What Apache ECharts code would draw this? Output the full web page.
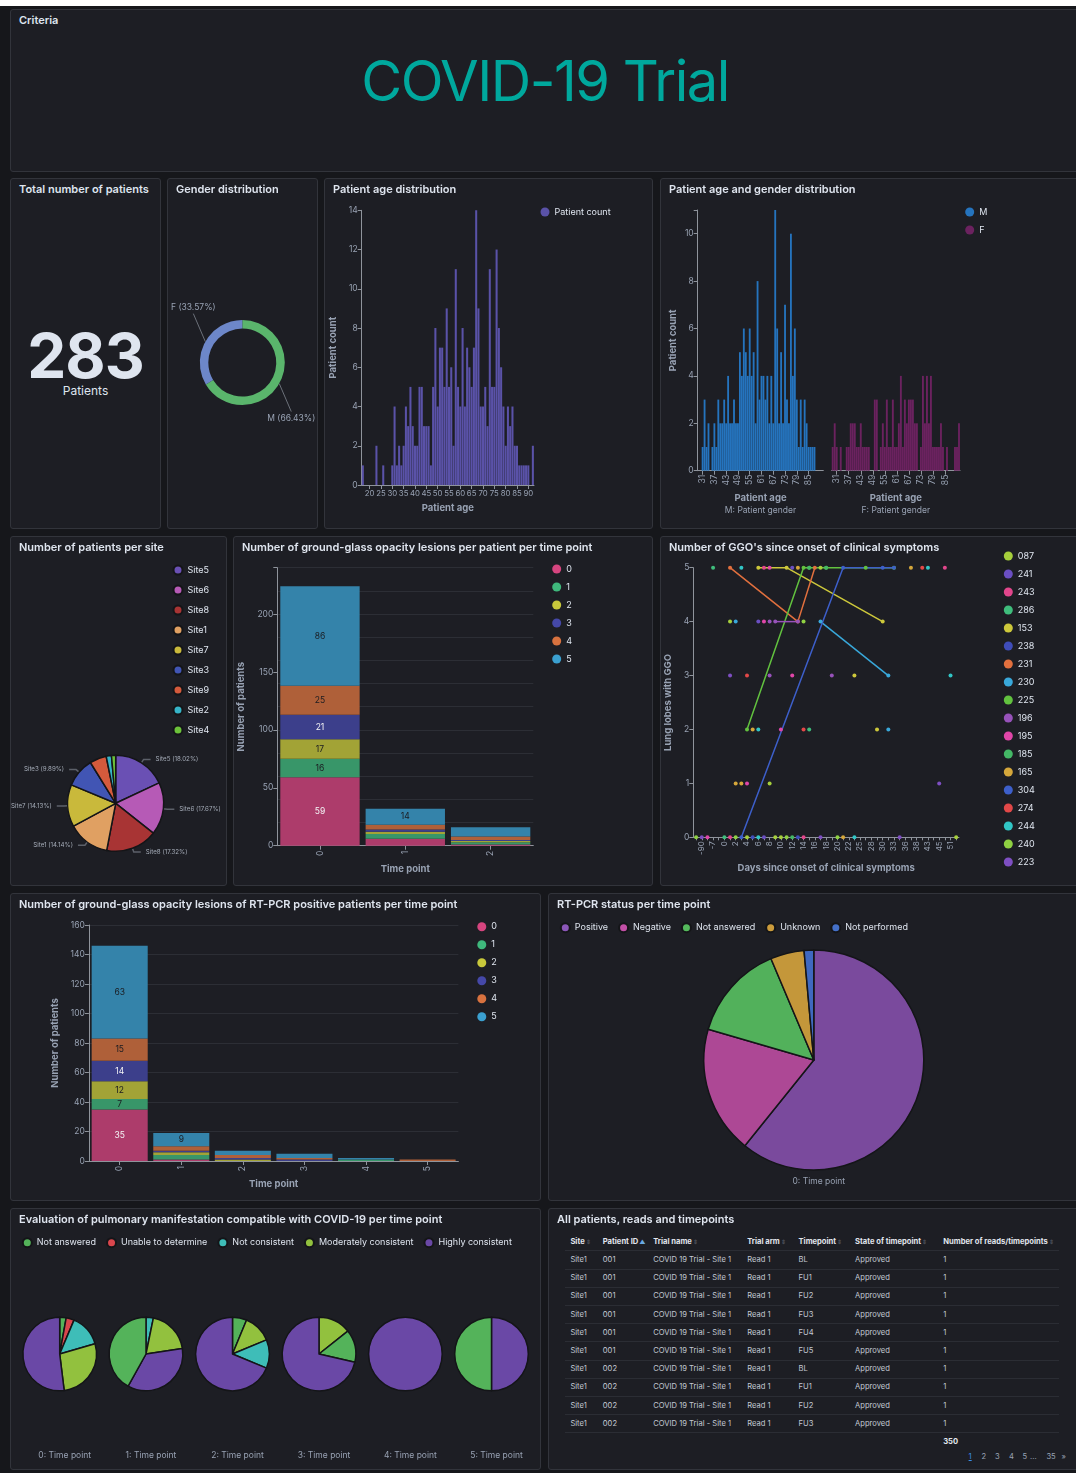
<!DOCTYPE html>
<html>
<head>
<meta charset="utf-8">
<title>COVID-19 Trial</title>
<script src="https://cdn.jsdelivr.net/npm/echarts/dist/echarts.min.js"></script>
<style>
  html, body { margin:0; padding:0; background:#ffffff; }
  #page { position:relative; width:1076px; height:1473px; background:#16171b; overflow:hidden; font-family: Inter, "Noto Sans", sans-serif; }
  #topstrip { position:absolute; left:0; top:0; width:1076px; height:6px; background:#ffffff; }
  .panel { position:absolute; background:#1d1e24; border:1px solid #32343b; border-radius:3px; box-sizing:border-box; overflow:hidden; }
  .ptitle { position:absolute; left:8px; top:4px; font-weight:600; font-size:11px; line-height:13px; color:#dfe5ef; white-space:nowrap; z-index:2; }
  .chart { position:absolute; left:0; top:0; right:0; bottom:0; }
  .headline { position:absolute; left:0; width:100%; top:43px; text-align:center; font-size:56px; line-height:56px; letter-spacing:-1.5px; color:#00a89d; font-weight:400; }
  #bignum { position:absolute; left:0; width:100%; top:146px; text-align:center; font-size:62px; line-height:62px; font-weight:700; color:#dfe5ef; letter-spacing:-1px; }
  #bigsub { position:absolute; left:0; width:100%; top:205px; text-align:center; font-size:12px; line-height:14px; color:#dfe5ef; }
  .tc { position:absolute; font-size:7.6px; line-height:10px; color:#c3c9d3; white-space:nowrap; }
  .th { font-weight:700; color:#e2e6ee; }
  .si { color:#4a4e58; font-size:6px; margin-left:1px; }
  .sa { color:#6aa9e2; font-size:6px; margin-left:1px; }
  .tl { position:absolute; height:1px; background:#2b2d34; }
  .pg { position:absolute; font-size:7.6px; line-height:10px; color:#98a2b3; }
</style>
</head>
<body>
<div id="page">
  <div id="topstrip"></div>

  <div class="panel" style="left:10px;top:9px;width:1070px;height:163px">
    <div class="ptitle">Criteria</div>
    <div class="headline">COVID-19 Trial</div>
  </div>

  <div class="panel" style="left:10px;top:178px;width:151px;height:351px">
    <div class="ptitle">Total number of patients</div>
    <div id="bignum"></div>
    <div id="bigsub">Patients</div>
  </div>
  <div class="panel" style="left:167px;top:178px;width:151px;height:351px">
    <div class="ptitle">Gender distribution</div>
    <div class="chart" id="cGender"></div>
  </div>
  <div class="panel" style="left:324px;top:178px;width:329px;height:351px">
    <div class="ptitle">Patient age distribution</div>
    <div class="chart" id="cAge"></div>
  </div>
  <div class="panel" style="left:660px;top:178px;width:420px;height:351px">
    <div class="ptitle">Patient age and gender distribution</div>
    <div class="chart" id="cAgeGender"></div>
  </div>

  <div class="panel" style="left:10px;top:536px;width:217px;height:350px">
    <div class="ptitle">Number of patients per site</div>
    <div class="chart" id="cSites"></div>
  </div>
  <div class="panel" style="left:233px;top:536px;width:420px;height:350px">
    <div class="ptitle">Number of ground-glass opacity lesions per patient per time point</div>
    <div class="chart" id="cGgo"></div>
  </div>
  <div class="panel" style="left:660px;top:536px;width:420px;height:350px">
    <div class="ptitle">Number of GGO's since onset of clinical symptoms</div>
    <div class="chart" id="cOnset"></div>
  </div>

  <div class="panel" style="left:10px;top:893px;width:531px;height:308px">
    <div class="ptitle">Number of ground-glass opacity lesions of RT-PCR positive patients per time point</div>
    <div class="chart" id="cRt"></div>
  </div>
  <div class="panel" style="left:548px;top:893px;width:532px;height:308px">
    <div class="ptitle">RT-PCR status per time point</div>
    <div class="chart" id="cStatus"></div>
  </div>

  <div class="panel" style="left:10px;top:1208px;width:531px;height:262px">
    <div class="ptitle">Evaluation of pulmonary manifestation compatible with COVID-19 per time point</div>
    <div class="chart" id="cEval"></div>
  </div>
  <div class="panel" id="pTable" style="left:548px;top:1208px;width:532px;height:262px">
    <div class="ptitle">All patients, reads and timepoints</div>
  </div>
</div>

<script>
// ================= DATA =================
const totalPatients = 283;

const genderNames = ['M', 'F'];
const genderCounts = [188, 95];

const ageCats = ['17','18','19','20','21','22','23','24','25','26','27','28','29','30','31','32','33','34','35','36',
  '37','38','39','40','41','42','43','44','45','46','47','48','49','50','51','52','53','54','55','56',
  '57','58','59','60','61','62','63','64','65','66','67','68','69','70','71','72','73','74','75','76',
  '77','78','79','80','81','82','83','84','85','86','87','88','89','90','91','92'];
const ageCounts = [1,0,0,0,0,0,2,0,0,1,0,0,0,1,4,1,2,1,2,4,
  3,5,3,2,2,5,5,3,3,3,1,5,8,4,7,7,5,9,5,6,
  2,11,5,4,8,4,7,6,5,7,14,9,4,4,5,3,11,5,5,12,
  8,6,4,2,4,3,4,2,2,1,1,1,1,1,0,2];

const mfAgeCats = ['29','30','31','32','33','34','35','36','37','38','39','40','41','42','43','44','45','46','47','48',
  '49','50','51','52','53','54','55','56','57','58','59','60','61','62','63','64','65','66','67','68',
  '69','70','71','72','73','74','75','76','77','78','79','80','81','82','83','84','85','86','87','88',
  '89','90','91','92'];
const maleCounts = [0,0,1,3,1,2,0,1,2,1,3,2,2,3,2,4,2,2,3,2,
  2,5,4,6,5,4,6,4,5,2,8,3,4,4,3,4,2,4,2,11,
  6,2,5,2,7,3,2,10,4,6,3,1,3,1,3,2,1,1,1,1,
  0,0,0,0];
const femaleCounts = [1,2,1,0,1,0,0,1,1,2,2,2,1,1,2,1,1,1,1,0,
  0,3,3,0,1,2,1,3,1,1,3,1,1,2,4,1,3,2,3,3,
  3,2,2,0,1,4,2,4,2,4,1,1,1,1,2,1,0,1,0,0,
  0,1,1,2];

const siteNames = ['Site5','Site6','Site8','Site1','Site7','Site3','Site9','Site2','Site4'];
const siteCounts = [51, 50, 49, 40, 40, 28, 16, 5, 4];

const ggoTimePoints = ['0', '1', '2'];
const lesionClasses = ['0', '1', '2', '3', '4', '5'];
const ggoLesion0 = [59, 6, 1];
const ggoLesion1 = [16, 4, 2];
const ggoLesion2 = [17, 2, 1];
const ggoLesion3 = [21, 2, 1];
const ggoLesion4 = [25, 4, 3];
const ggoLesion5 = [86, 14, 8];

const onsetDays = ['-95','-90','-14','-7','-1','0','1','2','3','4','5','6','7','8','9','10','11','12','13','14',
  '15','16','17','18','19','20','21','22','24','25','27','28','29','30','32','33','35','36','37','38',
  '41','43','44','45','48','51','56'];
const onsetPatients = ['087','241','243','286','153','238','231','230','225','196','195','185','165','304','274','244','240','223'];
const onsetLines = {
  '153': [['6',5],['11',5],['30',4]],
  '225': [['4',2],['14',5],['15',5],['18',5],['27',5],['33',5]],
  '304': [['3',0],['21',5],['30',5],['33',5]],
  '231': [['1',5],['13',4],['16',5]],
  '196': [['9',4],['13',4]],
  '230': [['17',4],['32',3]]
};
const onsetDots = {
  '087': [['4',0],['9',0],['10',0],['56',0],['1',4],['8',1],['17',5]],
  '241': [['12',5],['6',4],['7',0]],
  '243': [['7',5],['48',5],['1',0],['14',0]],
  '286': [['-7',5],['0',0],['15',2]],
  '153': [['24',3],['29',2]],
  '238': [['5',0],['13',0]],
  '230': [['2',4],['32',2]],
  '196': [['8',4],['8',3],['19',3]],
  '195': [['-14',0],['7',4],['12',3],['10',2],['4',1],['8',5]],
  '185': [['15',5],['18',5],['12',0]],
  '165': [['13',5],['37',5],['5',2],['2',1],['3',1],['21',0]],
  '274': [['41',5],['4',3],['14',2]],
  '244': [['3',5],['43',5],['51',3],['6',2],['24',0],['6',0]],
  '240': [['-95',0],['2',0],['11',0],['20',0],['14',4]],
  '223': [['-90',0],['1',3],['45',1],['17',0],['35',0]]
};

const rtTimePoints = ['0', '1', '2', '3', '4', '5'];
const rtLesion0 = [35, 1, 0, 0, 0, 0];
const rtLesion1 = [7, 3, 0, 0, 1, 0];
const rtLesion2 = [12, 2, 1, 0, 0, 0];
const rtLesion3 = [14, 1, 1, 1, 0, 0];
const rtLesion4 = [15, 3, 2, 1, 0, 1];
const rtLesion5 = [63, 9, 3, 3, 1, 0];

const rtStatusNames = ['Positive', 'Negative', 'Not answered', 'Unknown', 'Not performed'];
const rtStatusCounts = [172, 53, 40, 14, 4];
const rtStatusLabel = '0: Time point';

const evalClasses = ['Not answered', 'Unable to determine', 'Not consistent', 'Moderately consistent', 'Highly consistent'];
const evalTimePoints = ['0: Time point', '1: Time point', '2: Time point', '3: Time point', '4: Time point', '5: Time point'];
const evalTp0 = [['Not answered', 8], ['Unable to determine', 10], ['Not consistent', 40], ['Moderately consistent', 78], ['Highly consistent', 147]];
const evalTp1 = [['Not consistent', 1], ['Moderately consistent', 6], ['Highly consistent', 11], ['Not answered', 13]];
const evalTp2 = [['Not answered', 1], ['Moderately consistent', 2], ['Not consistent', 2], ['Highly consistent', 11]];
const evalTp3 = [['Moderately consistent', 1], ['Not answered', 1], ['Highly consistent', 5]];
const evalTp4 = [['Highly consistent', 2]];
const evalTp5 = [['Highly consistent', 1], ['Not answered', 1]];

const tableHeaders = ['Site', 'Patient ID', 'Trial name', 'Trial arm', 'Timepoint', 'State of timepoint', 'Number of reads/timepoints'];
const tableRows = [
  ['Site1', '001', 'COVID 19 Trial - Site 1', 'Read 1', 'BL', 'Approved', '1'],
  ['Site1', '001', 'COVID 19 Trial - Site 1', 'Read 1', 'FU1', 'Approved', '1'],
  ['Site1', '001', 'COVID 19 Trial - Site 1', 'Read 1', 'FU2', 'Approved', '1'],
  ['Site1', '001', 'COVID 19 Trial - Site 1', 'Read 1', 'FU3', 'Approved', '1'],
  ['Site1', '001', 'COVID 19 Trial - Site 1', 'Read 1', 'FU4', 'Approved', '1'],
  ['Site1', '001', 'COVID 19 Trial - Site 1', 'Read 1', 'FU5', 'Approved', '1'],
  ['Site1', '002', 'COVID 19 Trial - Site 1', 'Read 1', 'BL', 'Approved', '1'],
  ['Site1', '002', 'COVID 19 Trial - Site 1', 'Read 1', 'FU1', 'Approved', '1'],
  ['Site1', '002', 'COVID 19 Trial - Site 1', 'Read 1', 'FU2', 'Approved', '1'],
  ['Site1', '002', 'COVID 19 Trial - Site 1', 'Read 1', 'FU3', 'Approved', '1']
];
const tableTotal = '350';
const pageLabels = ['1', '2', '3', '4', '5', '...', '35', '»'];

// ================= STYLE =================
const FONT = 'Inter, "Noto Sans", sans-serif';
const PANEL_BG = '#1d1e24';
const LABEL_C = '#98a2b3';
const LINE_C = '#8f949c';
const lesionColors = ['#d6457f', '#3fb87c', '#c8c83b', '#4548a8', '#d8723f', '#3ba0d0'];
const lesionLabelColors = ['#f3f3f5', '#1b1c21', '#1b1c21', '#f3f3f5', '#1b1c21', '#1b1c21'];
const siteColors = ['#6a50b4', '#b65ab6', '#a83434', '#e0a062', '#c9b93b', '#4155b4', '#d45a3c', '#36b4c8', '#6cc23a'];
const onsetColors = ['#a6cf3c', '#6b4fc2', '#e2468c', '#3fbd7c', '#cdc83b', '#3f4dba', '#e2703e', '#39a8da', '#62c23f',
  '#9752ba', '#e046a8', '#44b866', '#d5a73b', '#3d5fca', '#e24848', '#31c6c6', '#8fd142', '#7e4fc2'];
const statusLegendColors = ['#8b57b8', '#c24fa6', '#54b95c', '#cc9c3c', '#4470c8'];
const statusSliceColors = ['#7a4a9d', '#ad4895', '#52b15b', '#c4973a', '#3f69c0'];
const evalColors = { 'Not answered': '#54b35a', 'Unable to determine': '#d9464d', 'Not consistent': '#3ebdb8', 'Moderately consistent': '#92c13e', 'Highly consistent': '#6a48a6' };

function mix(hex, bg, a) {
  const p = h => [1, 3, 5].map(i => parseInt(h.substr(i, 2), 16));
  const c = p(hex), b = p(bg);
  return 'rgb(' + c.map((v, i) => Math.round(v * a + b[i] * (1 - a))).join(',') + ')';
}
function axisBase() {
  return {
    axisLine: { show: true, lineStyle: { color: LINE_C, width: 1 } },
    axisTick: { show: true, length: 4, lineStyle: { color: LINE_C, width: 1 } },
    axisLabel: { color: LABEL_C, fontSize: 8.5, fontFamily: FONT, margin: 4 },
    splitLine: { show: false },
    nameTextStyle: { color: LABEL_C, fontSize: 9.5, fontWeight: 'bold', fontFamily: FONT }
  };
}
function ax(extra) {
  const b = axisBase();
  for (const k in extra) {
    if (b[k] && typeof b[k] === 'object' && extra[k] && typeof extra[k] === 'object' && !Array.isArray(extra[k])) b[k] = Object.assign({}, b[k], extra[k]);
    else b[k] = extra[k];
  }
  return b;
}
function legendCfg(o) {
  return Object.assign({
    icon: 'circle', itemWidth: 9, itemHeight: 9, itemGap: 9, selectedMode: false, padding: 0,
    textStyle: { color: '#dfe5ef', fontSize: 9, fontFamily: FONT, lineHeight: 9 },
    itemStyle: { opacity: 1 }
  }, o);
}
function gridCfg(o) { return Object.assign({ containLabel: false, outerBoundsMode: 'none' }, o); }
function init(id, option) {
  const ch = echarts.init(document.getElementById(id), null, { renderer: 'canvas' });
  ch.setOption(Object.assign({ animation: false, textStyle: { fontFamily: FONT } }, option));
  return ch;
}

// ================= TOTAL =================
document.getElementById('bignum').textContent = String(totalPatients);

// ================= GENDER =================
function steepLabel(p) {
  const pts = p.labelLinePoints;
  if (!pts || pts.length < 2) return {};
  const p0 = pts[0], p1 = pts[1];
  const sx = Math.sign(p1[0] - p0[0]) || 1, sy = Math.sign(p1[1] - p0[1]) || 1;
  const end = [p0[0] + sx * 12, p0[1] + sy * 28];
  return { x: end[0], y: end[1] + sy * 2, align: 'center', verticalAlign: sy < 0 ? 'bottom' : 'top', labelLinePoints: [p0, end, end] };
}
init('cGender', {
  series: [{
    type: 'pie', center: [74.3, 183.6], radius: [34, 42.5], startAngle: 90, avoidLabelOverlap: false,
    data: genderNames.map((n, i) => ({ name: n, value: genderCounts[i] })),
    color: ['#5ab56c', '#6d87c9'],
    label: { show: true, formatter: '{b} ({d}%)', color: LABEL_C, fontSize: 8.5, fontFamily: FONT },
    labelLine: { show: true, length: 14, length2: 0, lineStyle: { color: '#6c717a', width: 1 } },
    labelLayout: steepLabel
  }]
});

// ================= AGE =================
init('cAge', {
  grid: gridCfg({ left: 36.7, top: 31.3, width: 172.3, height: 274.7 }),
  legend: legendCfg({ orient: 'vertical', left: 215.5, top: 28.5, data: ['Patient count'] }),
  xAxis: ax({
    type: 'category', data: ageCats, boundaryGap: true,
    axisTick: { alignWithLabel: true, interval: (i, v) => Number(v) % 5 === 0 },
    axisLabel: { interval: (i, v) => Number(v) % 5 === 0, margin: 5, fontSize: 7.8 },
    name: 'Patient age', nameLocation: 'middle', nameGap: 17
  }),
  yAxis: ax({
    type: 'value', min: 0, max: 14, interval: 2,
    name: 'Patient count', nameLocation: 'middle', nameGap: 18
  }),
  series: [{ type: 'bar', name: 'Patient count', data: ageCounts, barCategoryGap: '10%', itemStyle: { color: '#5a52a8' } }]
});

// ================= AGE & GENDER =================
const mfLabelInterval = (i, v) => (Number(v) - 31) % 6 === 0 && Number(v) <= 85;
function mfX(idx, sub) {
  return ax({
    gridIndex: idx, type: 'category', data: mfAgeCats, boundaryGap: true,
    axisTick: { alignWithLabel: true, interval: mfLabelInterval },
    axisLabel: { rotate: 90, interval: mfLabelInterval, margin: 4 },
    name: '{a|Patient age}\n{b|' + sub + '}', nameLocation: 'middle', nameGap: 18,
    nameTextStyle: { fontWeight: 'normal', rich: { a: { color: LABEL_C, fontSize: 9.5, fontWeight: 'bold', fontFamily: FONT, lineHeight: 13 }, b: { color: LABEL_C, fontSize: 8.5, fontWeight: 'normal', fontFamily: FONT, lineHeight: 12 } } }
  });
}
init('cAgeGender', {
  grid: [gridCfg({ left: 36.7, top: 31, width: 125.6, height: 260.7 }), gridCfg({ left: 170.7, top: 31, width: 128.3, height: 260.7 })],
  legend: legendCfg({ orient: 'vertical', left: 304.2, top: 28.5, data: genderNames }),
  xAxis: [mfX(0, 'M: Patient gender'), mfX(1, 'F: Patient gender')],
  yAxis: [
    ax({ gridIndex: 0, type: 'value', min: 0, max: 11, interval: 2, axisLabel: { formatter: v => (v % 2 === 0 ? String(v) : '') }, name: 'Patient count', nameLocation: 'middle', nameGap: 20 }),
    { gridIndex: 1, type: 'value', min: 0, max: 11, interval: 2, show: false }
  ],
  series: [
    { type: 'bar', name: 'M', data: maleCounts, xAxisIndex: 0, yAxisIndex: 0, barCategoryGap: '6%', itemStyle: { color: '#2574be' } },
    { type: 'bar', name: 'F', data: femaleCounts, xAxisIndex: 1, yAxisIndex: 1, barCategoryGap: '6%', itemStyle: { color: '#6b225f' } }
  ]
});

// ================= SITES =================
const siteCenter = [104.7, 266.3];
const siteTotal = siteCounts.reduce((a, b) => a + b, 0);
function siteLabel(p) {
  const pts = p.labelLinePoints;
  if (!pts || pts.length < 2) return {};
  const p0 = pts[0];
  const inner = [siteCenter[0] + (p0[0] - siteCenter[0]) * 0.55, siteCenter[1] + (p0[1] - siteCenter[1]) * 0.55];
  const rest = pts.slice(1).map(q => q.slice());
  let dx = 0;
  const minX = 7;
  if (p.rect && p.rect.x < minX) {
    dx = minX - p.rect.x;
    const last = rest[rest.length - 1];
    const bend = rest.length > 1 ? rest[rest.length - 2] : p0;
    last[0] = Math.min(bend[0], last[0] + dx);
  }
  return { dx: dx, labelLinePoints: [inner].concat(rest) };
}
init('cSites', {
  legend: legendCfg({ orient: 'vertical', left: 161.5, top: 27.5, data: siteNames }),
  series: [{
    type: 'pie', center: siteCenter, radius: 48, startAngle: 90, avoidLabelOverlap: false,
    data: siteNames.map((n, i) => {
      const show = siteCounts[i] / siteTotal >= 0.06;
      return { name: n, value: siteCounts[i], itemStyle: { color: siteColors[i] }, label: { show: show }, labelLine: { show: show } };
    }),
    itemStyle: { borderColor: '#141518', borderWidth: 1.5 },
    label: { formatter: '{b} ({d}%)', color: '#a4abb7', fontSize: 6.2, fontFamily: FONT },
    labelLine: { length: 4, length2: 7, lineStyle: { color: '#5c6069', width: 1.5 } },
    labelLayout: siteLabel
  }]
});

// ================= STACKED LESION BARS =================
function lesionSeries(rows, threshold, gap) {
  return lesionClasses.map((cls, i) => ({
    type: 'bar', name: cls, stack: 'total', data: rows[i], barCategoryGap: gap, yAxisIndex: 0,
    itemStyle: { color: mix(lesionColors[i], PANEL_BG, 0.78) },
    label: { show: true, position: 'inside', fontSize: 8.5, fontFamily: FONT, color: lesionLabelColors[i], formatter: p => (p.value >= threshold ? String(p.value) : '') }
  }));
}
function lesionLegend(left, top) {
  return legendCfg({ orient: 'vertical', left: left, top: top, data: lesionClasses.map((c, i) => ({ name: c, itemStyle: { color: lesionColors[i], opacity: 1 } })) });
}
init('cGgo', {
  grid: gridCfg({ left: 43.3, top: 30.7, width: 256, height: 278 }),
  legend: lesionLegend(318.2, 27.5),
  xAxis: ax({ type: 'category', data: ggoTimePoints, axisTick: { alignWithLabel: true }, axisLabel: { rotate: 90, margin: 5 }, name: 'Time point', nameLocation: 'middle', nameGap: 15 }),
  yAxis: [
    ax({ type: 'value', min: 0, max: 240, interval: 50, axisLabel: { formatter: v => (v % 50 === 0 && v <= 200 ? String(v) : '') }, name: 'Number of patients', nameLocation: 'middle', nameGap: 22 }),
    { type: 'value', min: 0, max: 240, interval: 20, axisLine: { show: false }, axisTick: { show: false }, axisLabel: { show: false }, splitLine: { show: true, lineStyle: { color: '#2c2e35', width: 1 } } }
  ],
  series: lesionSeries([ggoLesion0, ggoLesion1, ggoLesion2, ggoLesion3, ggoLesion4, ggoLesion5], 9, '7%')
});

init('cRt', {
  grid: gridCfg({ left: 77.9, top: 31, width: 369.5, height: 236 }),
  legend: lesionLegend(466.3, 28.2),
  xAxis: ax({ type: 'category', data: rtTimePoints, axisTick: { alignWithLabel: true }, axisLabel: { rotate: 90, margin: 5 }, name: 'Time point', nameLocation: 'middle', nameGap: 14 }),
  yAxis: ax({ type: 'value', min: 0, max: 160, interval: 20, splitLine: { show: true, lineStyle: { color: '#2c2e35', width: 1 } }, name: 'Number of patients', nameLocation: 'middle', nameGap: 24 }),
  series: lesionSeries([rtLesion0, rtLesion1, rtLesion2, rtLesion3, rtLesion4, rtLesion5], 7, '9%')
});

// ================= ONSET =================
const onsetSeries = [];
onsetPatients.forEach((id, i) => {
  const col = onsetColors[i];
  if (onsetLines[id]) onsetSeries.push({ type: 'line', name: id, data: onsetLines[id], symbol: 'circle', symbolSize: 4, showSymbol: true, showAllSymbol: true, lineStyle: { width: 1.5, color: col }, itemStyle: { color: col }, z: 3 });
  if (onsetDots[id] && onsetDots[id].length) onsetSeries.push({ type: 'scatter', name: id, data: onsetDots[id], symbolSize: 4, itemStyle: { color: col, opacity: 1 }, z: 4 });
});
init('cOnset', {
  grid: gridCfg({ left: 32.3, top: 30.7, width: 265.7, height: 269.6 }),
  legend: legendCfg({ orient: 'vertical', left: 342.8, top: 14.5, data: onsetPatients.map((n, i) => ({ name: n, itemStyle: { color: onsetColors[i] } })) }),
  xAxis: ax({
    type: 'category', data: onsetDays, boundaryGap: true,
    axisTick: { alignWithLabel: true, interval: 0, length: 3 },
    axisLabel: { rotate: 90, interval: i => i % 2 === 1, margin: 4, fontSize: 8 },
    name: 'Days since onset of clinical symptoms', nameLocation: 'middle', nameGap: 23
  }),
  yAxis: ax({ type: 'value', min: 0, max: 5, interval: 1, name: 'Lung lobes with GGO', nameLocation: 'middle', nameGap: 15 }),
  series: onsetSeries
});

// ================= RT-PCR STATUS =================
init('cStatus', {
  legend: legendCfg({ orient: 'horizontal', left: 10.8, top: 28.2, itemGap: 10, data: rtStatusNames.map((n, i) => ({ name: n, itemStyle: { color: statusLegendColors[i] } })) }),
  title: { text: rtStatusLabel, left: 264.8, top: 278, textAlign: 'center', textStyle: { color: LABEL_C, fontSize: 8.5, fontWeight: 'normal', fontFamily: FONT } },
  series: [{
    type: 'pie', center: [264.8, 166], radius: 110, startAngle: 90,
    data: rtStatusNames.map((n, i) => ({ name: n, value: rtStatusCounts[i], itemStyle: { color: statusSliceColors[i] } })),
    itemStyle: { borderColor: '#141518', borderWidth: 1.5 },
    label: { show: false }, labelLine: { show: false }
  }]
});

// ================= EVALUATION =================
const evalPies = [evalTp0, evalTp1, evalTp2, evalTp3, evalTp4, evalTp5];
const evalCentersX = [48.7, 135, 221.5, 308, 394.4, 480.5];
init('cEval', {
  legend: legendCfg({ orient: 'horizontal', left: 10.8, top: 28.2, itemGap: 10, data: evalClasses.map(n => ({ name: n, itemStyle: { color: evalColors[n] } })) }),
  title: evalTimePoints.map((t, i) => ({ text: t, left: evalCentersX[i], top: 237, textAlign: 'center', textStyle: { color: LABEL_C, fontSize: 8.5, fontWeight: 'normal', fontFamily: FONT } })),
  series: evalPies.map((rows, i) => ({
    type: 'pie', center: [evalCentersX[i], 145], radius: 36.8, startAngle: 90,
    data: rows.map(r => ({ name: r[0], value: r[1], itemStyle: { color: evalColors[r[0]] } })),
    itemStyle: { borderColor: '#141518', borderWidth: 1.5 },
    label: { show: false }, labelLine: { show: false }
  }))
});

// ================= TABLE =================
(function buildTable() {
  const panel = document.getElementById('pTable');
  const colX = [21.4, 53.8, 104.2, 198.2, 249.5, 306, 394.2];
  const headY = 27.5, rowY0 = 46, step = 18.2;
  tableHeaders.forEach((h, i) => {
    const d = document.createElement('div');
    d.className = 'tc th';
    d.style.left = colX[i] + 'px'; d.style.top = headY + 'px';
    d.innerHTML = h + (i === 1 ? '<span class="sa">&#9650;</span>' : '<span class="si">&#8661;</span>');
    panel.appendChild(d);
  });
  for (let k = 0; k <= tableRows.length; k++) {
    const l = document.createElement('div');
    l.className = 'tl';
    l.style.left = '16.3px'; l.style.width = '494px'; l.style.top = (41.4 + k * step) + 'px';
    panel.appendChild(l);
  }
  tableRows.forEach((row, r) => {
    row.forEach((v, c) => {
      const d = document.createElement('div');
      d.className = 'tc';
      d.style.left = colX[c] + 'px'; d.style.top = (rowY0 + r * step) + 'px';
      d.textContent = v;
      panel.appendChild(d);
    });
  });
  const tot = document.createElement('div');
  tot.className = 'tc th';
  tot.style.left = colX[6] + 'px'; tot.style.top = '227.5px';
  tot.textContent = tableTotal;
  panel.appendChild(tot);
  const pgX = [421.6, 434.5, 448, 461.9, 475.4, 483, 499.4, 514.6];
  pageLabels.forEach((t, i) => {
    const d = document.createElement('div');
    d.className = 'pg';
    d.style.left = (pgX[i] - 2) + 'px'; d.style.top = '243px';
    d.textContent = t;
    if (i === 0) { d.style.color = '#3a8ee6'; d.style.textDecoration = 'underline'; }
    panel.appendChild(d);
  });
})();
</script>
</body>
</html>
